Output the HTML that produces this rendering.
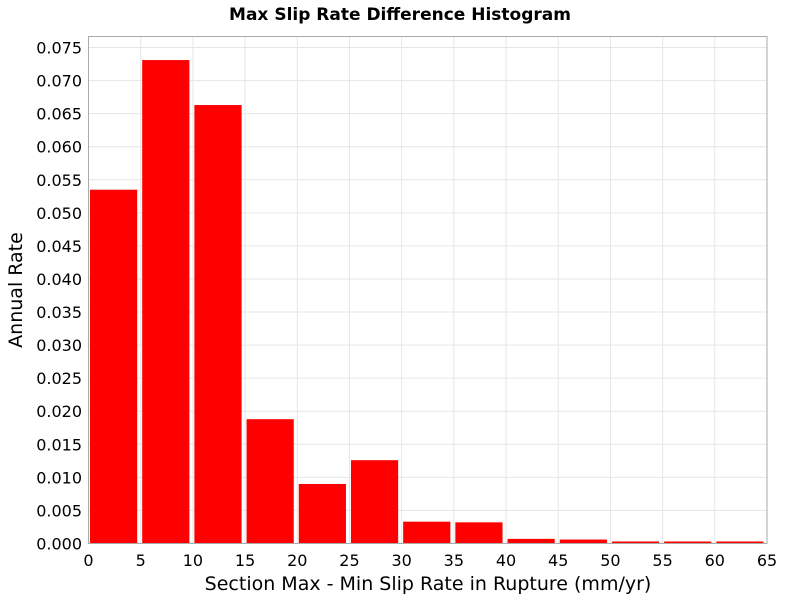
<!DOCTYPE html>
<html><head><meta charset="utf-8"><style>
body{margin:0;background:#fff}
svg text{font-family:"DejaVu Sans","Liberation Sans",sans-serif;fill:#000}
</style></head><body>
<svg id="c" width="800" height="600">
<text x="400" y="20" text-anchor="middle" font-size="17" font-weight="bold">Max Slip Rate Difference Histogram</text>
<g id="grid"></g><g id="bars"></g><g id="axes"></g>
<rect x="88.5" y="36.5" width="678.5" height="507" fill="none" stroke="#aaa"/>
<text x="428" y="590" text-anchor="middle" font-size="19">Section Max - Min Slip Rate in Rupture (mm/yr)</text>
<text transform="translate(22,290) rotate(-90)" text-anchor="middle" font-size="19">Annual Rate</text>
</svg>
<script>
const binStarts=[0,5,10,15,20,25,30,35,40,45,50,55,60];
const rates=[0.0535,0.0731,0.0663,0.0188,0.0090,0.0126,0.0033,0.0032,0.0007,0.0006,0.0003,0.0003,0.0003];
const xTicks=[0,5,10,15,20,25,30,35,40,45,50,55,60,65];
const yTicks=[0,0.005,0.01,0.015,0.02,0.025,0.03,0.035,0.04,0.045,0.05,0.055,0.06,0.065,0.07,0.075];
const binWidth=5;
const NS="http://www.w3.org/2000/svg";
const X=v=>88.5+v*(767-88.5)/65;
const Y=v=>543.5-v*(543.5-47.5)/0.075;
const g=document.getElementById('grid'),b=document.getElementById('bars'),a=document.getElementById('axes');
function mk(t,attrs,p){const e=document.createElementNS(NS,t);for(const k in attrs)e.setAttribute(k,attrs[k]);p.appendChild(e);return e;}
xTicks.forEach(v=>{
 const l=mk('line',{x1:X(v),x2:X(v),y1:36.5,y2:543.5,stroke:'#e6e6e6'},g);
 
 
 const t=mk('text',{x:X(v),y:566,'text-anchor':'middle','font-size':'16'},a);t.textContent=v;
 
 
});
yTicks.forEach(v=>{
 const l=mk('line',{x1:88.5,x2:767,y1:Y(v),y2:Y(v),stroke:'#e6e6e6'},g);
 
 
 const t=mk('text',{x:82,y:Y(v)+6,'text-anchor':'end','font-size':'16'},a);t.textContent=v.toFixed(3);
 
 
});
binStarts.forEach((s,i)=>{
 const x0=X(s)+1.5,x1=X(s+binWidth)-3.5;
 const r=mk('rect',{x:x0,y:Y(rates[i]),width:x1-x0,height:Y(0)-Y(rates[i]),fill:'#ff0000'},b);
 
 
});
</script>
</body></html>
